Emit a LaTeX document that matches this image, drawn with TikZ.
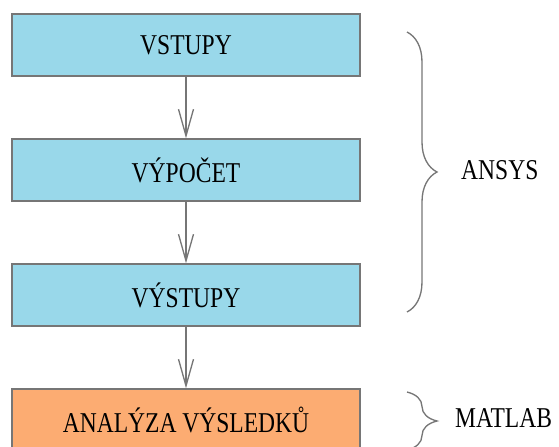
\documentclass[tikz,border=0pt]{standalone}
\usepackage{fontspec}
\setmainfont[FakeStretch=0.82]{Liberation Serif}
\usetikzlibrary{arrows.meta,decorations.pathreplacing}
\definecolor{boxblue}{RGB}{153,216,234}
\definecolor{boxorange}{RGB}{252,172,114}
\definecolor{linegray}{RGB}{118,118,118}
\tikzset{
  blok/.style={draw=linegray,line width=0.04cm,fill=boxblue,minimum width=10.44cm,minimum height=1.86cm,inner sep=0pt},
  sipka/.style={draw=linegray,line width=0.04cm,-{Straight Barb[length=0.8cm,width=0.45cm]}},
  zavorka/.style={draw=linegray,line width=0.04cm,decorate,decoration={brace,amplitude=0.9cm}}
}

\begin{document}
\begin{tikzpicture}[x=1cm,y=1cm,every node/.style={align=center,font=\fontsize{24.5}{28}\selectfont}]
\useasboundingbox (0,0) rectangle (16.77,-13.38);
% kroky
\node[blok] (vstupy) at (5.58,-1.35) {VSTUPY};
\node[blok] (vypocet) at (5.58,-5.1) {VÝPOČET};
\node[blok] (vystupy) at (5.58,-8.85) {VÝSTUPY};
\node[blok,fill=boxorange] (analyza) at (5.58,-12.6) {ANALÝZA VÝSLEDKŮ};
\draw[sipka] (vstupy)--(vypocet);\draw[sipka] (vypocet)--(vystupy);\draw[sipka] (vystupy)--(analyza);
% zavorky
\coordinate (ansysA) at (12.21,-0.96);
\coordinate (ansysB) at (12.21,-9.36);
\coordinate (matlabA) at (12.21,-11.76);
\coordinate (matlabB) at (12.21,-13.5);
\draw[zavorka] (ansysA)--(ansysB);
\draw[zavorka] (matlabA)--(matlabB);
\node[anchor=west,inner sep=0pt] (ansys) at (13.83,-5.1) {ANSYS};
\node[anchor=west,inner sep=0pt] (matlab) at (13.65,-12.54) {MATLAB};
\end{tikzpicture}
\end{document}
